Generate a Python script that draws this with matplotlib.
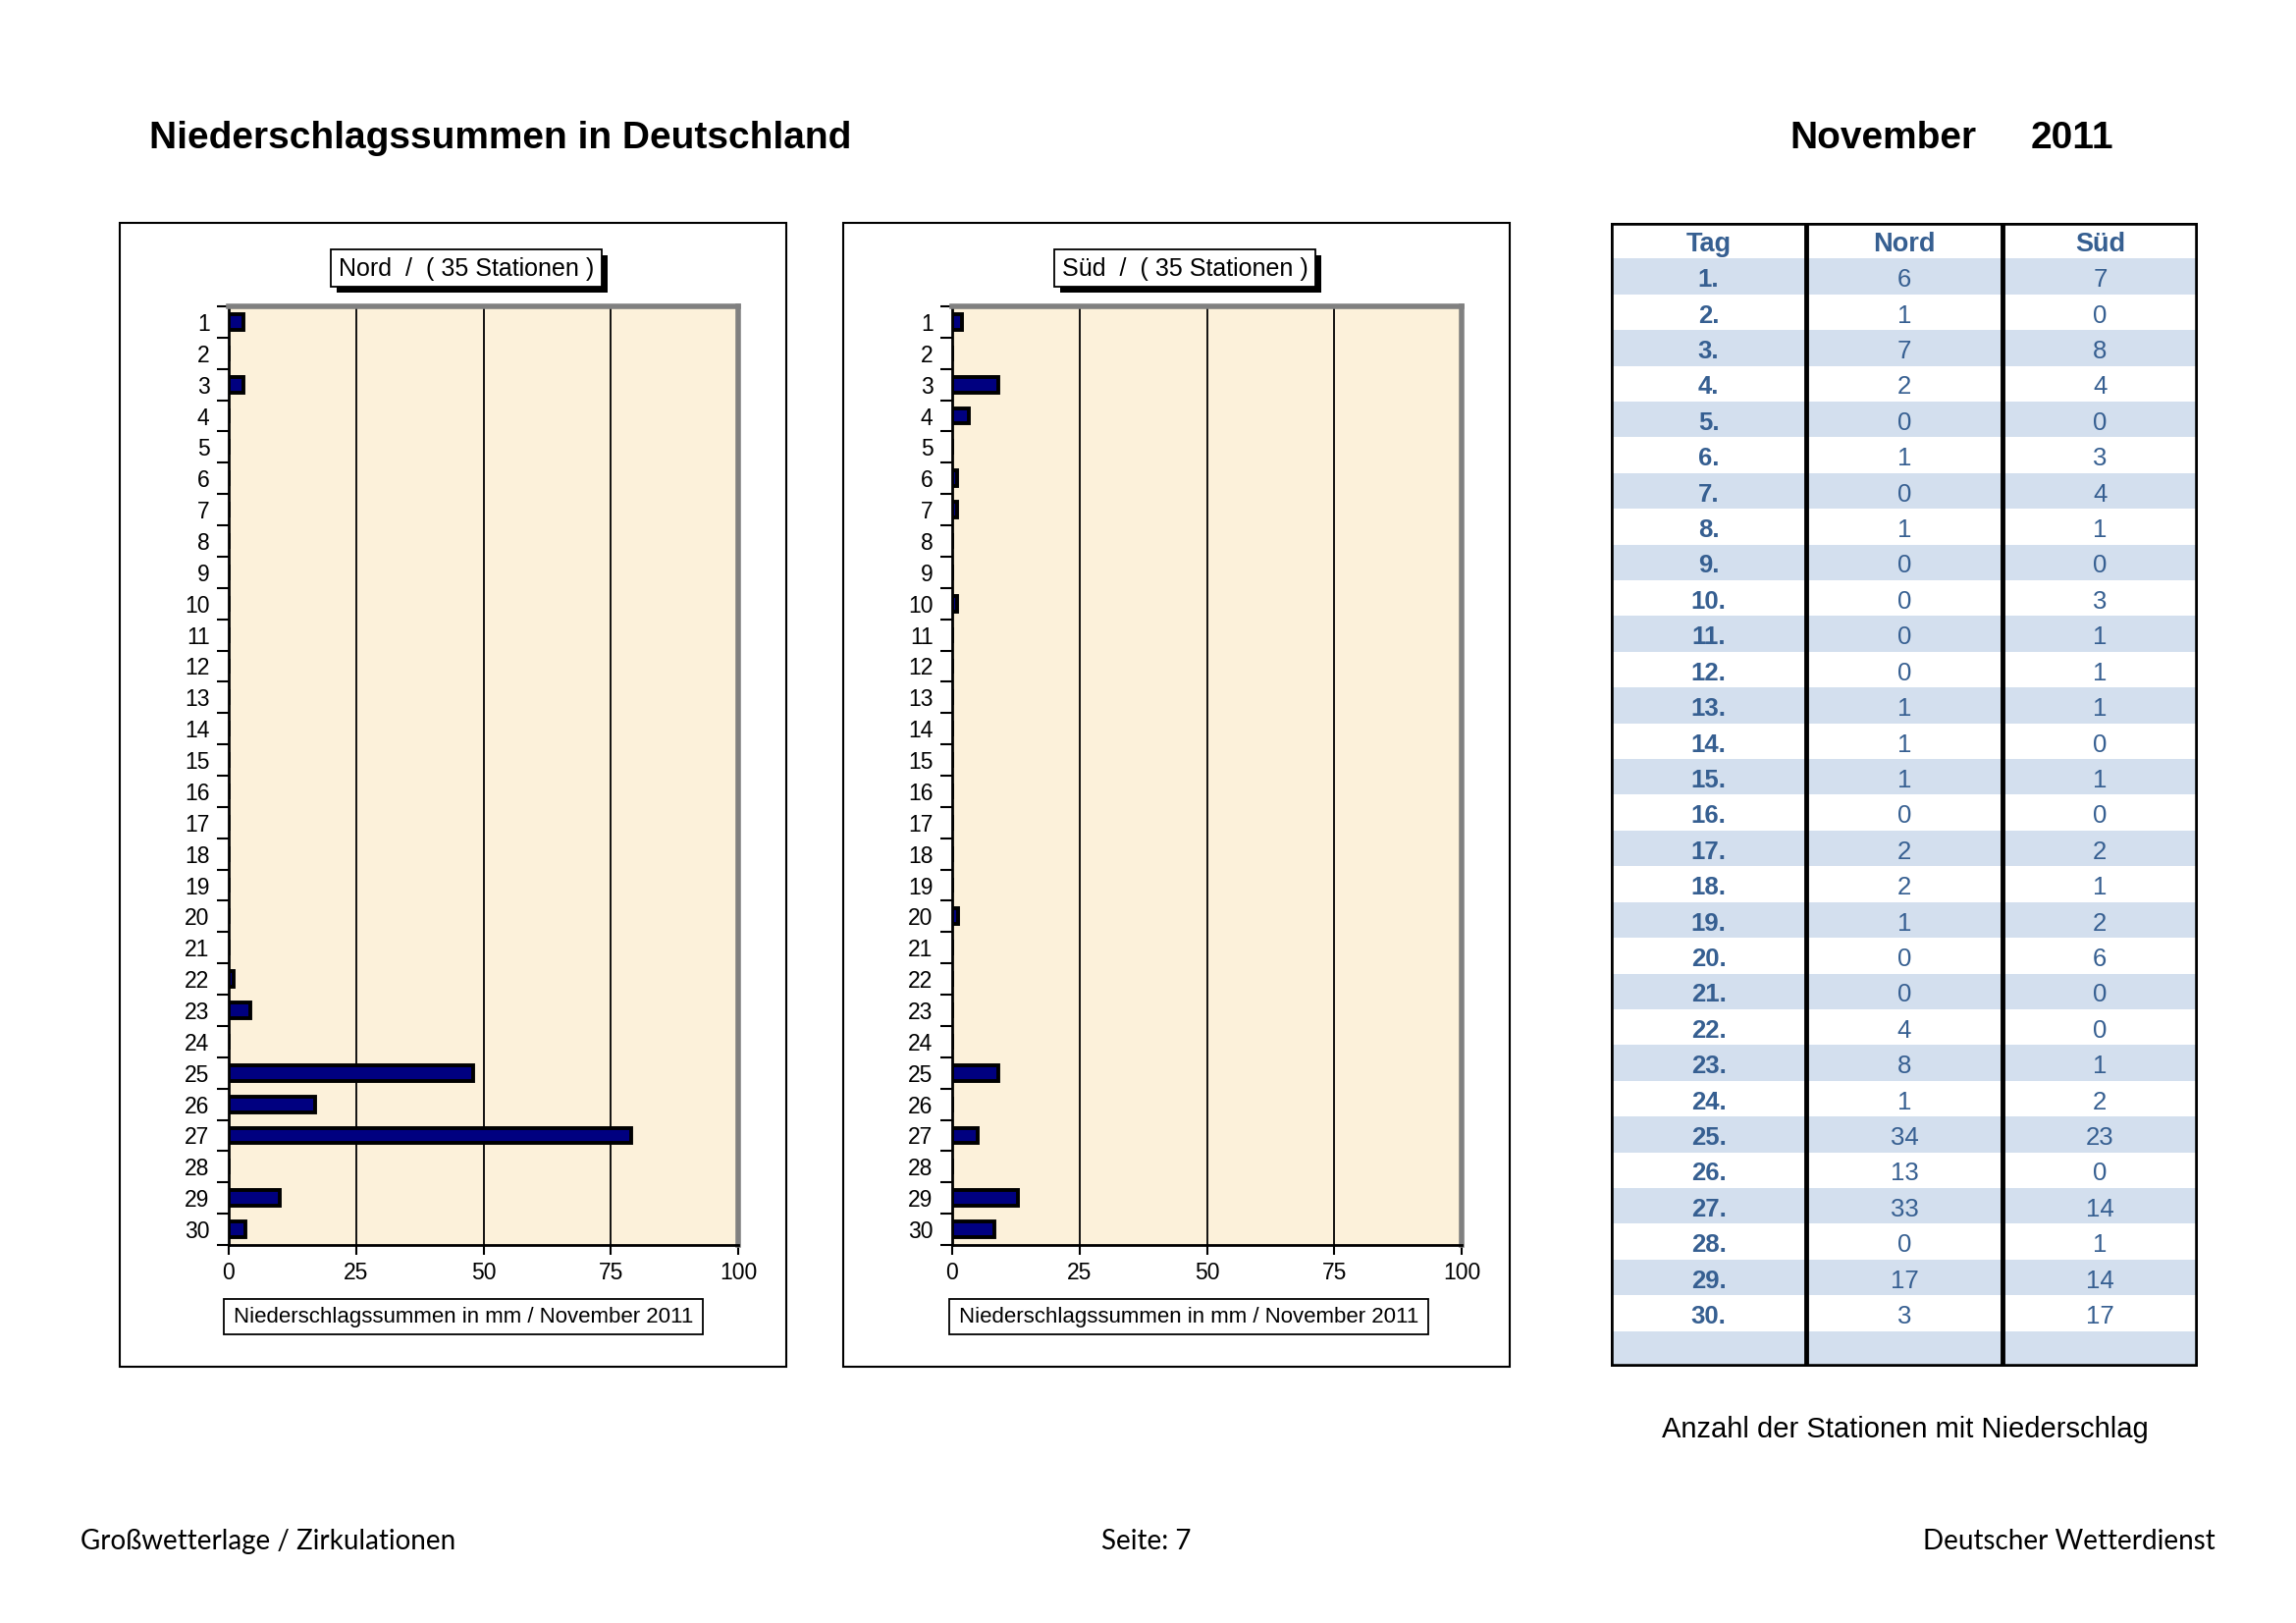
import matplotlib
matplotlib.use("Agg")
import matplotlib.pyplot as plt
from matplotlib.patches import Rectangle
import numpy as np

W, H = 2339, 1653

days = list(range(1, 31))
# Niederschlagssummen in mm
nord_mm = [2.8, 0, 2.8, 0, 0, 0, 0, 0, 0, 0, 0, 0, 0, 0, 0,
           0, 0, 0, 0, 0, 0, 0.9, 4.2, 0, 48, 17, 79, 0, 10, 3.2]
sued_mm = [2.0, 0, 9.0, 3.2, 0, 1.0, 1.0, 0, 0, 1.0, 0, 0, 0, 0, 0,
           0, 0, 0, 0, 1.1, 0, 0, 0, 0, 9.1, 0, 5.0, 0, 13.0, 8.2]
# Anzahl der Stationen mit Niederschlag
nord_stationen = [6, 1, 7, 2, 0, 1, 0, 1, 0, 0, 0, 0, 1, 1, 1,
                  0, 2, 2, 1, 0, 0, 4, 8, 1, 34, 13, 33, 0, 17, 3]
sued_stationen = [7, 0, 8, 4, 0, 3, 4, 1, 0, 3, 1, 1, 1, 0, 1,
                  0, 2, 1, 2, 6, 0, 0, 1, 2, 23, 0, 14, 1, 14, 17]
x_ticks = [0, 25, 50, 75, 100]
table_header = ["Tag", "Nord", "Süd"]

FONT = "Liberation Sans"
FOOT_FONT = "Lato"
TAB_TEXT = "#365F91"
TAB_BAND = "#D3DFEE"


def fig_rect(x0, y0, x1, y1):
    return [x0 / W, 1 - y1 / H, (x1 - x0) / W, (y1 - y0) / H]


def boxed_text(bg, x0, y0, x1, y1, text, size, shadow=False):
    if shadow:
        bg.add_patch(Rectangle((x0 + 6, y0 + 6), x1 - x0, y1 - y0, fc="black", ec="none", zorder=1))
    bg.add_patch(Rectangle((x0, y0), x1 - x0, y1 - y0, fc="white", ec="black", lw=1.3, zorder=2))
    bg.text((x0 + x1) / 2, (y0 + y1) / 2 + 1, text, ha="center", va="center",
            fontsize=size, family=FONT, zorder=3)


def draw_panel(fig, bg, box, plot, title_box, label_box, title, values):
    bg.add_patch(Rectangle((box[0], box[1]), box[2] - box[0], box[3] - box[1],
                           fill=False, ec="black", lw=1.5))
    boxed_text(bg, *title_box, title, 18, shadow=True)
    boxed_text(bg, *label_box, "Niederschlagssummen in mm / November 2011", 16)

    ax = fig.add_axes(fig_rect(*plot))
    ax.set_facecolor("#FCF1DA")
    ax.barh(days, values, height=0.5, color="#000080", edgecolor="black", linewidth=2.8, zorder=3)
    ax.set_xlim(0, 100)
    ax.set_ylim(30.5, 0.5)
    for v in x_ticks[1:-1]:
        ax.axvline(v, color="black", lw=1.3, zorder=2)

    ax.set_yticks(days)
    ax.set_yticklabels([str(d) for d in days], family=FONT, fontsize=16.5)
    ax.tick_params(axis="y", which="major", length=0, pad=14)
    ax.set_yticks(np.arange(0.5, 31, 1), minor=True)
    ax.tick_params(axis="y", which="minor", length=9, width=1.5, direction="out")
    ax.set_xticks(x_ticks)
    ax.set_xticklabels([str(v) for v in x_ticks], family=FONT, fontsize=16.5)
    ax.tick_params(axis="x", length=7, width=1.5, pad=5, direction="out")

    ax.spines["left"].set_linewidth(2)
    ax.spines["bottom"].set_linewidth(2)
    for side in ["top", "right"]:
        ax.spines[side].set_color("#808080")
        ax.spines[side].set_linewidth(4)
    return ax


def draw_table(fig):
    ax = fig.add_axes(fig_rect(1641, 227, 2239, 1392))
    n_rows = len(days) + 2
    ax.set_xlim(0, 3)
    ax.set_ylim(n_rows, 0)
    ax.axis("off")
    for r in range(1, n_rows):
        if r % 2 == 1:
            ax.add_patch(Rectangle((0, r), 3, 1, fc=TAB_BAND, ec="none", zorder=1))
    for c, head in enumerate(table_header):
        ax.text(c + 0.5, 0.6, head, ha="center", va="center", fontsize=19.5,
                fontweight="bold", family=FONT, color=TAB_TEXT, zorder=3)
    for i, d in enumerate(days):
        y = i + 1.6
        ax.text(0.5, y, f"{d}.", ha="center", va="center", fontsize=18.5,
                fontweight="bold", family=FONT, color=TAB_TEXT, zorder=3)
        ax.text(1.5, y, str(nord_stationen[i]), ha="center", va="center", fontsize=18.5,
                family=FONT, color=TAB_TEXT, zorder=3)
        ax.text(2.5, y, str(sued_stationen[i]), ha="center", va="center", fontsize=18.5,
                family=FONT, color=TAB_TEXT, zorder=3)
    for c in [1, 2]:
        ax.plot([c, c], [0, n_rows], color="black", lw=3.5, zorder=4, solid_capstyle="butt")
    ax.add_patch(Rectangle((0, 0), 3, n_rows, fill=False, ec="black", lw=4, zorder=5))


def main():
    fig = plt.figure(figsize=(W / 100, H / 100), dpi=100)
    bg = fig.add_axes([0, 0, 1, 1])
    bg.set_xlim(0, W)
    bg.set_ylim(H, 0)
    bg.axis("off")

    bg.text(152, 141, "Niederschlagssummen in Deutschland", ha="left", va="center",
            fontsize=28, fontweight="bold", family=FONT)
    bg.text(1823, 141, "November", ha="left", va="center", fontsize=28, fontweight="bold", family=FONT)
    bg.text(2069, 141, "2011", ha="left", va="center", fontsize=28, fontweight="bold", family=FONT)

    draw_panel(fig, bg, (122, 227, 801, 1392), (233, 312, 752, 1268),
               (337, 254, 613, 292), (228, 1323, 716, 1359),
               "Nord  /  ( 35 Stationen )", nord_mm)
    draw_panel(fig, bg, (859, 227, 1538, 1392), (970, 312, 1489, 1268),
               (1074, 254, 1340, 292), (967, 1323, 1455, 1359),
               "Süd  /  ( 35 Stationen )", sued_mm)

    draw_table(fig)
    bg.text(1941, 1456, "Anzahl der Stationen mit Niederschlag", ha="center", va="center",
            fontsize=21, family=FONT)

    bg.text(82, 1570, "Großwetterlage / Zirkulationen", ha="left", va="center", fontsize=20, family=FOOT_FONT)
    bg.text(1168, 1570, "Seite: 7", ha="center", va="center", fontsize=20, family=FOOT_FONT)
    bg.text(2257, 1570, "Deutscher Wetterdienst", ha="right", va="center", fontsize=20, family=FOOT_FONT)

    fig.savefig("out.png", dpi=100, facecolor="white")


if __name__ == "__main__":
    main()
